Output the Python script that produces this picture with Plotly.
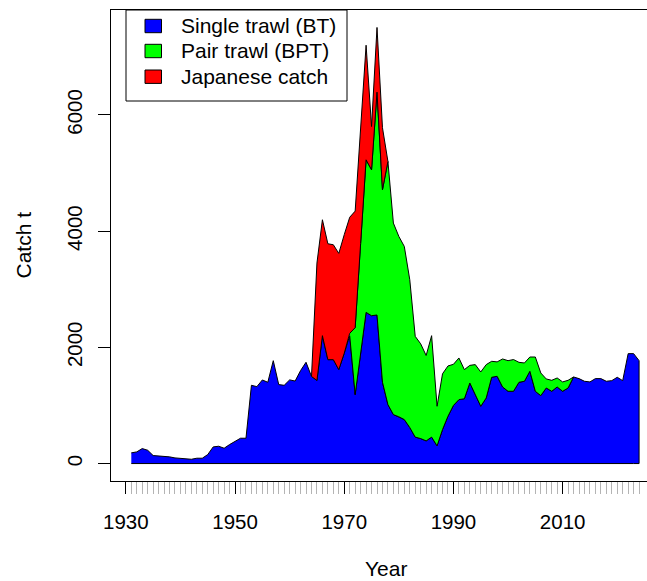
import plotly.graph_objects as go

# ---------------- data ----------------
years = list(range(1931, 2025))

single_trawl = [
    184, 201, 258, 229, 138, 132, 115, 115, 97,            # 1931-1939
    92, 80, 74, 92, 92, 155, 287, 298, 264, 327,           # 1940-1949
    384, 436, 436, 1347, 1324, 1439, 1399, 1771, 1359, 1347,  # 1950-1959
    1440, 1420, 1600, 1743, 1500, 1430, 2201, 1788, 1788, 1617,  # 1960-1969
    1900, 2201, 1187, 1900, 2602, 2545, 2557, 1400, 1015, 843,   # 1970-1979
    805, 757, 620, 455, 430, 390, 455, 305, 585, 815,            # 1980-1989
    1000, 1101, 1115, 1387, 1187, 986, 1129, 1485, 1502, 1318,   # 1990-1999
    1244, 1244, 1399, 1416, 1588, 1244, 1169, 1301, 1244, 1318,  # 2000-2009
    1244, 1301, 1490, 1462, 1416, 1405, 1462, 1462, 1416, 1427,  # 2010-2019
    1485, 1427, 1892, 1892, 1771,                                # 2020-2024
]

pair_years = list(range(1971, 2013))
pair_trawl = [
    40, 1153, 1890, 2626, 2511, 3835, 3312, 4184, 3296,     # 1971-1979
    3104, 2980, 2544, 1734, 1630, 1470, 1746, 681, 960, 865,  # 1980-1989
    708, 716, 502, 303, 516, 590, 574, 275, 248, 482,         # 1990-1999
    527, 546, 343, 315, 246, 590, 390, 155, 189, 155,         # 2000-2009
    161, 132, 0,                                              # 2010-2012
]

jap_years = list(range(1964, 1979))
japanese = [0, 2021, 1995, 1995, 1978, 2000, 2040, 1998, 2005, 1980,
            1972, 745, 1114, 1068, 0]

series_names = ["Single trawl (BT)", "Pair trawl (BPT)", "Japanese catch"]
series_colors = ["#0000FF", "#00FF00", "#FF0000"]

x_tick_values = [1930, 1940, 1950, 1960, 1970, 1980, 1990, 2000, 2010, 2020]
x_tick_labels = ["1930", "", "1950", "", "1970", "", "1990", "", "2010", ""]
y_tick_values = [0, 2000, 4000, 6000]
y_tick_labels = ["0", "2000", "4000", "6000"]

# ---------------- stacking ----------------
bt = dict(zip(years, single_trawl))
bpt = {y: 0 for y in years}
bpt.update(dict(zip(pair_years, pair_trawl)))
jp = {y: 0 for y in years}
jp.update(dict(zip(jap_years, japanese)))

lvl1 = {y: bt[y] for y in years}
lvl2 = {y: lvl1[y] + bpt[y] for y in years}
lvl3 = {y: lvl2[y] + jp[y] for y in years}


def polygon(span, top, bottom):
    xs = list(span) + list(span)[::-1]
    ys = [top[y] for y in span] + [bottom[y] for y in span][::-1]
    return xs, ys


zero = {y: 0 for y in years}
layers = [
    polygon(years, lvl1, zero),
    polygon(pair_years, lvl2, lvl1),
    polygon(jap_years, lvl3, lvl2),
]

FONT = "Liberation Sans, Arial, Helvetica, sans-serif"

fig = go.Figure()
for (xs, ys), name, col in zip(layers, series_names, series_colors):
    fig.add_trace(go.Scatter(
        x=xs, y=ys, mode="lines", fill="toself", fillcolor=col,
        line=dict(color="black", width=1), name=name, showlegend=False,
        hoverinfo="skip",
    ))

# ranges in the R style (4% expansion)
ymax = max(lvl3.values())
y_range = [-0.04 * ymax, 1.04 * ymax]
span = years[-1] - years[0]
x_range = [years[0] - 0.04 * span, 2025.45]

# ---------------- layout ----------------
L, R, T, B = 111, 0, 10, 100
W, H = 647, 581
PW, PH = W - L - R, H - T - B


def px(x):
    return (x - L) / PW


def py(y):
    return (H - B - y) / PH


shapes = [dict(type="rect", xref="paper", yref="paper",
               x0=px(126), x1=px(347), y0=py(101), y1=py(10),
               line=dict(color="black", width=1), fillcolor="white", layer="above")]
annotations = []
row_centers = [26, 51, 76.7]
for name, col, yc in zip(series_names, series_colors, row_centers):
    shapes.append(dict(type="rect", xref="paper", yref="paper",
                       x0=px(145), x1=px(161.5), y0=py(yc + 6.7), y1=py(yc - 6.7),
                       line=dict(color="black", width=1), fillcolor=col, layer="above"))
    annotations.append(dict(text=name, xref="paper", yref="paper",
                            x=px(179), y=py(yc), xanchor="left", yanchor="middle",
                            showarrow=False, font=dict(size=21, color="black", family=FONT)))

annotations.append(dict(text="Year", xref="paper", yref="paper",
                        x=px(386), y=py(580.5), xanchor="center", yanchor="bottom",
                        borderpad=0, showarrow=False,
                        font=dict(size=21, color="black", family=FONT)))
annotations.append(dict(text="Catch t", xref="paper", yref="paper",
                        x=px(23), y=py(245.5), xanchor="center", yanchor="middle",
                        textangle=-90, showarrow=False,
                        font=dict(size=21, color="black", family=FONT)))

fig.update_layout(
    width=W, height=H,
    margin=dict(l=L, r=R, t=T, b=B, pad=0),
    paper_bgcolor="white", plot_bgcolor="white",
    font=dict(family=FONT, size=20.5, color="black"),
    showlegend=False,
    shapes=shapes, annotations=annotations,
    xaxis=dict(
        range=x_range, showgrid=False, zeroline=False,
        showline=True, mirror=True, linecolor="black", linewidth=1,
        tickmode="array", tickvals=x_tick_values, ticktext=x_tick_labels,
        ticks="outside", ticklen=12, tickwidth=1, tickcolor="black",
        ticklabelstandoff=10,
        minor=dict(tickmode="array", tickvals=years, ticks="outside",
                   ticklen=12, tickwidth=1, tickcolor="#b4b4b4", showgrid=False),
        tickfont=dict(size=20.5, family=FONT, color="black"),
    ),
    yaxis=dict(
        range=y_range, showgrid=False, zeroline=False,
        showline=True, mirror=False, linecolor="black", linewidth=1,
        tickmode="array", tickvals=y_tick_values, ticktext=y_tick_labels,
        ticks="outside", ticklen=12, tickwidth=1, tickcolor="black",
        tickangle=-90, ticklabelstandoff=8,
        tickfont=dict(size=20.5, family=FONT, color="black"),
    ),
)

fig.write_html("out.html")
